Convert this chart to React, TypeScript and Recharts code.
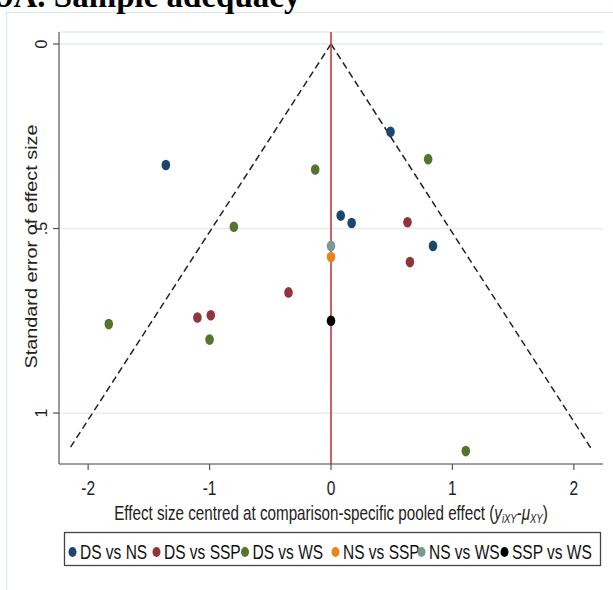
import React from "react";
import {
  ScatterChart,
  Scatter,
  XAxis,
  YAxis,
  CartesianGrid,
  ReferenceLine,
} from "recharts";

interface Study {
  x: number;
  se: number;
}

// centred effect size (x) and its standard error (se), one array per comparison
const dsVsNs: Study[] = [
  { x: -1.36, se: 0.328 },
  { x: 0.49, se: 0.238 },
  { x: 0.08, se: 0.465 },
  { x: 0.17, se: 0.485 },
  { x: 0.84, se: 0.547 },
];
const dsVsSsp: Study[] = [
  { x: -1.1, se: 0.741 },
  { x: -0.99, se: 0.735 },
  { x: -0.35, se: 0.673 },
  { x: 0.63, se: 0.483 },
  { x: 0.65, se: 0.591 },
];
const dsVsWs: Study[] = [
  { x: -1.83, se: 0.759 },
  { x: -1.0, se: 0.801 },
  { x: -0.8, se: 0.495 },
  { x: -0.13, se: 0.34 },
  { x: 0.8, se: 0.312 },
  { x: 1.11, se: 1.103 },
];
const nsVsSsp: Study[] = [{ x: 0, se: 0.577 }];
const nsVsWs: Study[] = [{ x: 0, se: 0.547 }];
const sspVsWs: Study[] = [{ x: 0, se: 0.75 }];

const comparisons = [
  { name: "DS vs NS", color: "#1a476f", data: dsVsNs },
  { name: "DS vs SSP", color: "#90353b", data: dsVsSsp },
  { name: "DS vs WS", color: "#55752f", data: dsVsWs },
  { name: "NS vs SSP", color: "#e8841c", data: nsVsSsp },
  { name: "NS vs WS", color: "#789a92", data: nsVsWs },
  { name: "SSP vs WS", color: "#000000", data: sspVsWs },
];

const xTicks = [-2, -1, 0, 1, 2];
const seTicks = [0, 0.5, 1];

// pseudo 95% confidence limits of the funnel
const funnelLeft = [
  { x: 0, y: 0 },
  { x: -2.16, y: 1.1 },
];
const funnelRight = [
  { x: 0, y: 0 },
  { x: 2.15, y: 1.1 },
];

const legendX = [80, 164, 252.5, 343, 429, 512];

const SANS = "'Liberation Sans', Arial, sans-serif";
const STRETCH = 1.3;

const Marker = (props: any) => (
  <ellipse cx={props.cx} cy={props.cy} rx={4.3} ry={5.3} fill={props.fill} />
);

const XTick = ({ x, y, payload }: any) => (
  <g transform={`translate(${x},${y + 23}) scale(1,${STRETCH})`}>
    <text textAnchor="middle" fontSize={15.5} fontFamily={SANS} fill="#222">
      {payload.value}
    </text>
  </g>
);

const YTick = ({ x, y, payload }: any) => (
  <g transform={`translate(${x - 4.5},${y}) rotate(-90)`}>
    <text textAnchor="middle" fontSize={16} fontFamily={SANS} fill="#222">
      {payload.value === 0.5 ? ".5" : String(payload.value)}
    </text>
  </g>
);

const App: React.FC = () => {
  return (
    <div
      style={{
        position: "absolute",
        left: 0,
        top: 0,
        width: 613,
        height: 590,
        background: "#fff",
      }}
    >
      <ScatterChart
        width={613}
        height={590}
        margin={{ top: 32, right: 10, bottom: 96, left: 0 }}
      >
        <CartesianGrid vertical={false} stroke="#e2ecee" strokeWidth={1.3} />
        <XAxis
          type="number"
          dataKey="x"
          domain={[-2.24, 2.24]}
          ticks={xTicks}
          height={30}
          tickSize={6}
          stroke="#555"
          strokeWidth={1.2}
          tick={<XTick />}
          allowDataOverflow
        />
        <YAxis
          type="number"
          dataKey="se"
          domain={[-0.0325, 1.138]}
          ticks={seTicks}
          reversed
          width={59}
          tickSize={6}
          stroke="#555"
          strokeWidth={1.2}
          tick={<YTick />}
          allowDataOverflow
        />
        <ReferenceLine
          segment={funnelLeft}
          stroke="#222"
          strokeWidth={1.5}
          strokeDasharray="7 4"
          ifOverflow="visible"
        />
        <ReferenceLine
          segment={funnelRight}
          stroke="#222"
          strokeWidth={1.5}
          strokeDasharray="7 4"
          ifOverflow="visible"
        />
        <ReferenceLine x={0} stroke="#c8383c" strokeWidth={1.6} />
        {comparisons.map((c) => (
          <Scatter
            key={c.name}
            name={c.name}
            data={c.data}
            fill={c.color}
            shape={Marker}
            isAnimationActive={false}
          />
        ))}
      </ScatterChart>

      <svg
        width={613}
        height={590}
        style={{ position: "absolute", left: 0, top: 0, pointerEvents: "none" }}
      >
        <rect
          x={6.5}
          y={12.5}
          width={700}
          height={700}
          fill="none"
          stroke="#dde6ea"
          strokeWidth={1.2}
        />
        <text
          x={-3}
          y={7}
          fontSize={33}
          fontWeight="bold"
          fontFamily="'Liberation Serif', 'Times New Roman', serif"
          fill="#000"
        >
          9A. Sample adequacy
        </text>

        <g transform="translate(37,246.5) rotate(-90) scale(1.2,1)">
          <text textAnchor="middle" fontSize={16.5} fontFamily={SANS} fill="#222">
            Standard error of effect size
          </text>
        </g>

        <g transform={`translate(331,519.5) scale(1,${STRETCH})`}>
          <text textAnchor="middle" fontSize={15.2} fontFamily={SANS} fill="#222">
            Effect size centred at comparison-specific pooled effect (
            <tspan fontStyle="italic">y</tspan>
            <tspan fontStyle="italic" fontSize={9.5} dy={2.5}>
              iXY
            </tspan>
            <tspan dy={-2.5}>-</tspan>
            <tspan fontStyle="italic">μ</tspan>
            <tspan fontStyle="italic" fontSize={9.5} dy={2.5}>
              XY
            </tspan>
            <tspan dy={-2.5}>)</tspan>
          </text>
        </g>

        <rect
          x={64.5}
          y={532.5}
          width={536}
          height={33}
          fill="none"
          stroke="#444"
          strokeWidth={1.3}
        />
        {comparisons.map((c, i) => (
          <g key={c.name}>
            <ellipse cx={legendX[i] - 7.5} cy={552} rx={4} ry={5} fill={c.color} />
            <g transform={`translate(${legendX[i]},558.5) scale(1,${STRETCH})`}>
              <text fontSize={15.5} fontFamily={SANS} fill="#111">
                {c.name}
              </text>
            </g>
          </g>
        ))}
      </svg>
    </div>
  );
};

export default App;
